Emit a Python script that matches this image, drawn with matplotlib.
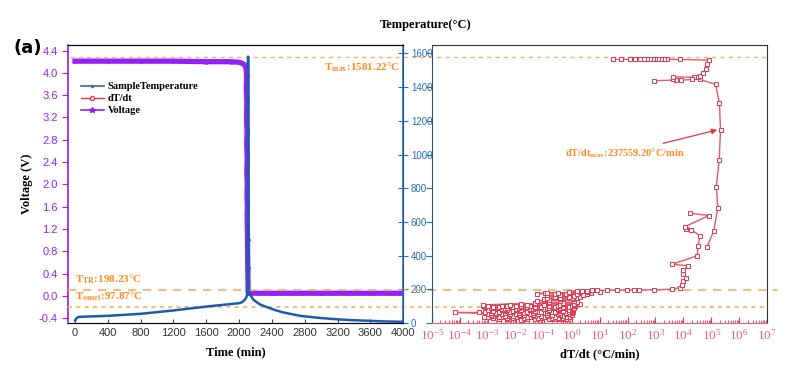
import matplotlib
matplotlib.use("Agg")
import matplotlib.pyplot as plt
import numpy as np
from matplotlib.lines import Line2D
from matplotlib.transforms import blended_transform_factory
from matplotlib.ticker import FixedLocator, LogLocator, LogFormatterSciNotation, NullFormatter

plt.rcParams['mathtext.fontset'] = 'stix'

# --- data ---
time_temp = [0, 20, 40, 100, 400, 800, 1200, 1600, 1800, 2000, 2040, 2070, 2090, 2100,
             2106, 2110, 2114, 2120, 2140, 2175, 2250, 2337, 2440, 2540, 2744, 2950,
             3150, 3350, 3557, 3760, 3963, 4000]
sample_temp = [15, 30, 36, 38, 43, 55, 75, 98, 108, 118, 125, 138, 155, 175,
               200, 1581.22, 205, 185, 165, 138, 112, 95, 77, 63, 43, 32,
               24, 18, 14, 10, 8, 8]

time_volt = [0, 400, 800, 1200, 1600, 1900, 2000, 2040, 2070, 2085, 2092, 2088, 2095,
             2091, 2097, 2093, 2099, 2094, 2100, 2096, 2101, 2098, 2103, 2106, 2110,
             2115, 2400, 3000, 3600, 4000]
voltage = [4.21, 4.21, 4.21, 4.21, 4.2, 4.2, 4.19, 4.17, 4.14, 4.08, 3.95, 3.7, 3.5,
           3.2, 2.95, 2.7, 2.45, 2.2, 2.0, 1.8, 1.6, 1.45, 1.0, 0.5, 0.08,
           0.05, 0.05, 0.05, 0.05, 0.05]

# dT/dt as log10(°C/min) with its temperature; NaN = gap (rate <= 0)
rate_exp = [-2.3, -1.8, -1.3, -0.8, -0.4,
            -0.2, -0.6, -1.1, -1.6, -2.1, -2.6,
            -2.8, -2.3, -1.7, -1.2, -0.7, -0.3,
            -0.1, -0.5, -1.0, -1.5, -2.0, -2.5, -3.0,
            -3.15, -2.6, -2.1, -1.6, -1.1, -0.6, -0.2,
            -0.3, -0.8, -1.3, -1.8, -2.3, -2.8,
            -2.9, -2.4, -1.9, -1.4, -0.9, -0.4, 0.0,
            -0.2, -0.7, -1.2, -1.7, -2.2, -2.7,
            -3.0, -2.5, -2.0, -1.5, -1.0, -0.5, -0.1,
            0.0, -0.4, -0.9, -1.4, -1.9, -2.4, -2.9,
            -4.17, -3.33, -2.7, -2.2, -1.7, -1.2, -0.7, -0.2, 0.05,
            -0.1, -0.6, -1.1, -1.6, -2.1, -2.6, -3.1,
            -2.9, -2.4, -1.9, -1.4, -0.9, -0.4, 0.0,
            0.05, -0.3, -0.8, -1.3, -1.8, -2.3, -2.8,
            -3.0, -2.5, -2.0, -1.5, -1.0, -0.5, -0.1,
            0.0, -0.5, -1.0, -1.5, -2.0, -2.5,
            -2.9, -2.4, -1.9, -1.4, -0.9, -0.4, 0.05,
            0.1, -0.3, -0.8, -1.3, -1.8, -2.3, -2.8,
            -3.1, -2.6, -2.1, -1.6, -1.1, -0.6, -0.1,
            0.13, -0.3, -0.8, -1.3, -1.8, -2.3, -2.8, -3.17,
            -3.0, -2.5, -2.0, -1.5, -1.0, -0.5, 0.0,
            0.1, -0.4, -1.0, -1.6, -2.2, -3.16,
            -1.8, -1.3, -0.8, -0.3, 0.1, 0.3,
            0.2, -0.3, -0.8, -1.3,
            -1.24, -0.8, -0.4, 0.07,
            0.1, -0.4, -1.0,
            -0.88, -0.4, 0.0, 0.19,
            0.3, -0.1, -0.6,
            -0.9, -0.4, 0.1, 0.4,
            0.55, 0.2, -0.2, -0.6, -0.94, -1.24,
            -0.9, -0.5, -0.1, 0.3, 0.7,
            1.0, 0.6, 0.2, -0.1,
            0.37, 0.55, 0.73, 0.91, 1.27, 1.63,
            1.98, 2.22, 2.40, 2.94,
            3.60, 3.87, 3.96, 3.99, 4.11, 3.99, 3.99, 4.17, 3.60, 4.49,
            4.53, 4.59, 4.28, 4.11, 4.07, 4.91, 4.25, np.nan,
            4.85, 5.09, 5.23, 5.18, 5.28, 5.33, 5.29, 5.15, 4.58, 3.92, 3.72, 2.94, np.nan,
            3.62, 3.62, 4.37, 4.31, 4.51, 4.61, 4.71, 4.81, 4.85, 4.91,
            3.87, 3.42, 3.3, 3.2, 3.1, 3.0, 2.9, 2.8, 2.7, 2.6, 2.46, 2.28, 2.08, 1.77, 1.48]
rate_temp = [23, 21, 24, 22, 25,
             27, 25, 28, 26, 29, 27,
             31, 29, 32, 30, 33, 31,
             35, 33, 36, 34, 37, 35, 34,
             39, 37, 40, 38, 41, 39, 38,
             43, 41, 44, 42, 45, 43,
             47, 45, 48, 46, 49, 47, 46,
             51, 49, 52, 50, 53, 51,
             55, 53, 56, 54, 57, 55, 54,
             59, 57, 60, 58, 61, 59, 58,
             63, 63, 61, 64, 62, 65, 63, 62, 64,
             67, 65, 68, 66, 69, 67, 66,
             71, 69, 72, 70, 73, 71, 70,
             75, 73, 76, 74, 77, 75, 74,
             79, 77, 80, 78, 81, 79, 78,
             83, 81, 84, 82, 85, 83,
             87, 85, 88, 86, 89, 87, 86,
             91, 89, 92, 90, 93, 91, 90,
             95, 93, 96, 94, 97, 95, 94,
             99, 97, 100, 98, 101, 99, 98, 100,
             103, 101, 104, 102, 105, 103, 102,
             108, 106, 109, 107, 110, 108,
             116, 114, 117, 115, 113, 116,
             123, 121, 124, 122,
             134, 135, 133, 134,
             141, 142, 140,
             148, 149, 147, 148,
             156, 157, 155,
             164, 165, 163, 164,
             174, 175, 173, 174, 176, 174,
             180, 181, 179, 182, 180,
             187, 186, 188, 187,
             193, 193, 194, 194, 195, 195,
             196, 197, 197, 197,
             201, 211, 227, 247, 270, 292, 312, 340, 349, 399,
             458, 519, 553, 559, 573, 638, 652, np.nan,
             454, 549, 685, 810, 968, 1146, 1304, 1416, 1446, 1442, 1442, 1438, np.nan,
             1446, 1461, 1458, 1448, 1461, 1466, 1481, 1507, 1535, 1560,
             1564, 1564, 1564, 1564, 1564, 1564, 1564, 1564, 1564, 1564, 1564, 1564, 1564, 1564, 1564]

T_max = 1581.22
T_TR = 198.23
T_onset = 97.87
rate_max_exp = 5.33
rate_max_T = 1146

volt_ticks = [-0.4, 0.0, 0.4, 0.8, 1.2, 1.6, 2.0, 2.4, 2.8, 3.2, 3.6, 4.0, 4.4]
time_ticks = list(range(0, 4001, 400))
temp_ticks = list(range(0, 1601, 200))
rate_ticks = [10.0 ** k for k in range(-5, 8)]

# --- colours ---
c_volt = '#9421f5'
c_temp = '#1c5dab'
c_temp_ax = '#2a6cb8'
c_rate = '#e0364f'
c_rate_line = '#e35a6c'
c_rate_lab = '#e8607a'
c_orange = '#ff8c1a'
c_dash = '#f7ae6a'

serif = 'Liberation Serif'
sans = 'Liberation Sans'

fig = plt.figure(figsize=(8, 3.81), dpi=100)
ax1 = fig.add_axes([0.085, 0.152, 0.419, 0.730])
ax2 = ax1.twinx()
ax3 = fig.add_axes([0.54, 0.152, 0.419, 0.730])
ax3.patch.set_visible(False)

# left panel: voltage + temperature
ax1.plot(time_volt, voltage, color=c_volt, lw=3.8, marker='*', ms=3, zorder=3)
ax1.set_xlim(-85, 4000)
ax1.set_ylim(-0.485, 4.5)
ax1.set_yticks(volt_ticks)
ax1.set_yticklabels([f'{v:.1f}' for v in volt_ticks], fontsize=8, color=c_volt, family=sans)
ax1.set_xticks(time_ticks)
ax1.set_xticklabels([str(t) for t in time_ticks], fontsize=8, color='#333333', family=sans)
ax1.tick_params(axis='x', direction='in', length=3, color='#444444')
ax1.tick_params(axis='y', direction='out', length=4, color=c_volt)
ax1.spines['left'].set_color(c_volt)
ax1.spines['left'].set_linewidth(1.2)
ax1.spines['bottom'].set_color('#555555')
ax1.set_xlabel('Time (min)', fontsize=9, fontweight='bold', family=serif, labelpad=6)
ax1.set_ylabel('Voltage (V)', fontsize=9, fontweight='bold', family=serif, labelpad=4)

ax2.plot(time_temp, sample_temp, color=c_temp, lw=1.8, zorder=4)
ax2.set_ylim(0, 1650)
ax2.set_yticks(temp_ticks)
ax2.set_yticklabels([str(t) for t in temp_ticks], fontsize=7, color=c_temp_ax, family=sans)
ax2.tick_params(axis='y', direction='inout', length=7, color=c_temp_ax, pad=2)
ax2.spines['right'].set_color(c_temp_ax)
ax2.spines['right'].set_linewidth(1.2)
ax2.spines['left'].set_visible(False)

# right panel: dT/dt vs temperature
rates = 10.0 ** np.array(rate_exp)
ax3.plot(rates, rate_temp, color=c_rate_line, lw=1.0, marker='s', ms=3.4,
         mfc='white', mec=c_rate, mew=0.7, zorder=3)
ax3.set_xscale('log')
ax3.set_xlim(1e-5, 1e7)
ax3.set_ylim(0, 1650)
ax3.xaxis.set_major_locator(FixedLocator(rate_ticks))
ax3.xaxis.set_major_formatter(LogFormatterSciNotation())
ax3.xaxis.set_minor_locator(LogLocator(base=10, subs=np.arange(2, 10), numticks=100))
ax3.xaxis.set_minor_formatter(NullFormatter())
ax3.tick_params(axis='x', which='major', direction='in', length=4, color=c_rate,
                labelcolor=c_rate_lab, labelsize=9.5, labelfontfamily=serif)
ax3.tick_params(axis='x', which='minor', direction='in', length=2, color=c_rate)
ax3.set_yticks(temp_ticks)
ax3.set_yticklabels([])
ax3.tick_params(axis='y', direction='out', length=4, color=c_temp_ax)
ax3.spines['bottom'].set_color(c_rate_lab)
ax3.spines['left'].set_color('#2b4f7a')
ax3.spines['top'].set_color('#333333')
ax3.spines['right'].set_color('#333333')
ax3.set_xlabel('dT/dt (°C/min)', fontsize=9, fontweight='bold', family=serif, labelpad=4)

# threshold lines spanning both panels
trans = blended_transform_factory(fig.transFigure, ax2.transData)
ax2.plot([0.088, 0.96], [T_max, T_max], transform=trans, clip_on=False,
         color=c_dash, lw=1.0, dashes=(3, 3), zorder=2)
ax2.plot([0.085, 0.972], [T_TR, T_TR], transform=trans, clip_on=False,
         color=c_dash, lw=1.2, dashes=(5, 4), zorder=2)
ax2.plot([0.085, 0.955], [T_onset, T_onset], transform=trans, clip_on=False,
         color=c_dash, lw=1.2, dashes=(2.5, 2.5), zorder=2)

# annotations
ax2.text(3960, 1520, r'$\mathbf{T_{max}}$:1581.22°C', ha='right', va='center',
         fontsize=8, fontweight='bold', color=c_orange, family=serif)
ax2.text(0, 258, r'$\mathbf{T_{TR}}$:198.23°C', ha='left', va='center',
         fontsize=8, fontweight='bold', color=c_orange, family=serif)
ax2.text(0, 158, r'$\mathbf{T_{onset}}$:97.87°C', ha='left', va='center',
         fontsize=8, fontweight='bold', color=c_orange, family=serif)
ax3.annotate(r'dT/dt$_{\mathbf{max}}$:237559.20°C/min',
             xy=(10.0 ** (rate_max_exp - 0.12), rate_max_T),
             xytext=(10.0 ** 1.9, 1010), ha='center', va='center',
             fontsize=7.5, fontweight='bold', color=c_orange, family=serif,
             arrowprops=dict(arrowstyle='-|>', color='#e8303a', lw=0.9,
                             mutation_scale=8, shrinkA=45, shrinkB=0))

# legend
handles = [Line2D([], [], color=c_temp_ax, lw=1.2, marker='.', ms=3),
           Line2D([], [], color=c_rate, lw=1.0, marker='o', ms=3, mfc='white'),
           Line2D([], [], color=c_volt, lw=1.2, marker='*', ms=4)]
ax1.legend(handles, ['SampleTemperature', 'dT/dt', 'Voltage'], loc='upper left',
           bbox_to_anchor=(0.01, 0.9), frameon=False,
           prop={'family': serif, 'weight': 'bold', 'size': 7.5},
           handlelength=2.2, handletextpad=0.4, labelspacing=0.25)

fig.text(0.532, 0.935, 'Temperature(°C)', ha='center', va='center', fontsize=9,
         fontweight='bold', family=serif)
fig.text(0.035, 0.875, '(a)', ha='center', va='center', fontsize=13,
         fontweight='bold', family='DejaVu Sans')

fig.savefig('out.png', dpi=100)
